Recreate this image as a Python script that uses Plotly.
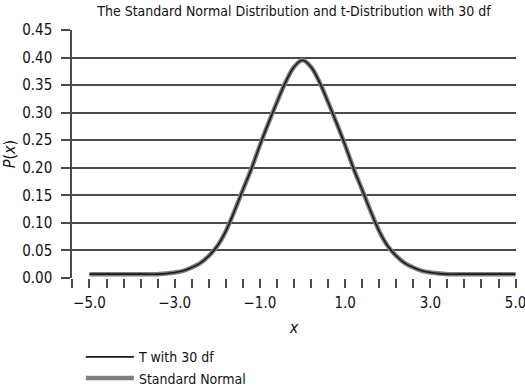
import plotly.graph_objects as go

# x positions (units of x) and densities
x_vals = [-5.0, -4.6, -4.2, -3.8, -3.4, -3.2, -3.0, -2.8, -2.6, -2.4, -2.2, -2.0,
          -1.8, -1.6, -1.4, -1.2, -1.0, -0.8, -0.6, -0.4, -0.2, 0.0,
          0.2, 0.4, 0.6, 0.8, 1.0, 1.2, 1.4, 1.6, 1.8, 2.0, 2.2, 2.4, 2.6,
          2.8, 3.0, 3.2, 3.4, 3.8, 4.2, 4.6, 5.0]
t30_vals = [0.007, 0.007, 0.007, 0.007, 0.007, 0.008, 0.010, 0.013, 0.019, 0.027, 0.040, 0.058,
            0.085, 0.121, 0.160, 0.198, 0.241, 0.281, 0.319, 0.355, 0.383, 0.395,
            0.383, 0.355, 0.319, 0.281, 0.241, 0.198, 0.160, 0.121, 0.085, 0.058, 0.040, 0.027, 0.019,
            0.013, 0.010, 0.008, 0.007, 0.007, 0.007, 0.007, 0.007]
normal_vals = [0.007, 0.007, 0.007, 0.007, 0.007, 0.008, 0.010, 0.013, 0.019, 0.027, 0.040, 0.058,
               0.085, 0.121, 0.160, 0.198, 0.241, 0.281, 0.319, 0.355, 0.383, 0.395,
               0.383, 0.355, 0.319, 0.281, 0.241, 0.198, 0.160, 0.121, 0.085, 0.058, 0.040, 0.027, 0.019,
               0.013, 0.010, 0.008, 0.007, 0.007, 0.007, 0.007, 0.007]

x_tick_vals = [round(-5.4 + 0.4 * i, 1) for i in range(27)]
x_tick_labels = {-5.0: "−5.0", -3.0: "−3.0", -1.0: "−1.0", 1.0: "1.0", 3.0: "3.0", 5.0: "5.0"}
x_tick_text = [x_tick_labels.get(v, "") for v in x_tick_vals]
y_tick_vals = [0.00, 0.05, 0.10, 0.15, 0.20, 0.25, 0.30, 0.35, 0.40, 0.45]
y_tick_text = ["%.2f" % v for v in y_tick_vals]

FONT = "DejaVu Sans Condensed, Liberation Sans Narrow, sans-serif"
AX = "#4a4a4a"

fig = go.Figure()
fig.add_trace(go.Scatter(x=x_vals, y=normal_vals, mode="lines", name="Standard Normal",
                         line=dict(color="#7f7f7f", width=4.5, shape="spline", smoothing=1.0)))
fig.add_trace(go.Scatter(x=x_vals, y=t30_vals, mode="lines", name="T with 30 df",
                         line=dict(color="#1a1a1a", width=1.6, shape="spline", smoothing=1.0)))

fig.update_layout(
    width=525, height=387,
    margin=dict(l=72, r=9, t=30, b=109, autoexpand=False),
    paper_bgcolor="white", plot_bgcolor="white",
    font=dict(family=FONT, size=15, color="#111111"),
    title=dict(text="The Standard Normal Distribution and t-Distribution with 30 df",
               x=0.5, xref="paper", xanchor="center", y=0.972, yref="container", yanchor="middle",
               font=dict(family=FONT, size=14, color="#111111"), automargin=False),
    xaxis=dict(range=[-5.41, 5.01], tickmode="array", tickvals=x_tick_vals, ticktext=x_tick_text,
               ticks="outside", ticklen=9, tickwidth=1.5, tickcolor=AX, ticklabelstandoff=2,
               ticklabeloverflow="allow",
               showgrid=False, zeroline=False, showline=False, automargin=False,
               title=dict(text="<i>x</i>", standoff=10, font=dict(size=16)),
               tickfont=dict(size=15)),
    yaxis=dict(range=[0, 0.45], tickmode="array", tickvals=y_tick_vals, ticktext=y_tick_text,
               ticks="outside", ticklen=9, tickwidth=1.5, tickcolor=AX, ticklabelstandoff=6,
               showgrid=True, gridcolor=AX, gridwidth=1.5, automargin=False,
               zeroline=False, showline=True, linecolor=AX, linewidth=1.5,
               title=dict(text="<i>P</i>(<i>x</i>)", standoff=8, font=dict(size=16)),
               tickfont=dict(size=15)),
    legend=dict(x=0.02, xanchor="left", y=-0.255, yanchor="top", traceorder="reversed",
                bgcolor="rgba(0,0,0,0)", font=dict(size=14), itemwidth=48, tracegroupgap=0),
    showlegend=True,
)

fig.write_html("out.html", config={"displayModeBar": False},
               post_script="document.body.style.margin='0';document.body.style.padding='0';")
